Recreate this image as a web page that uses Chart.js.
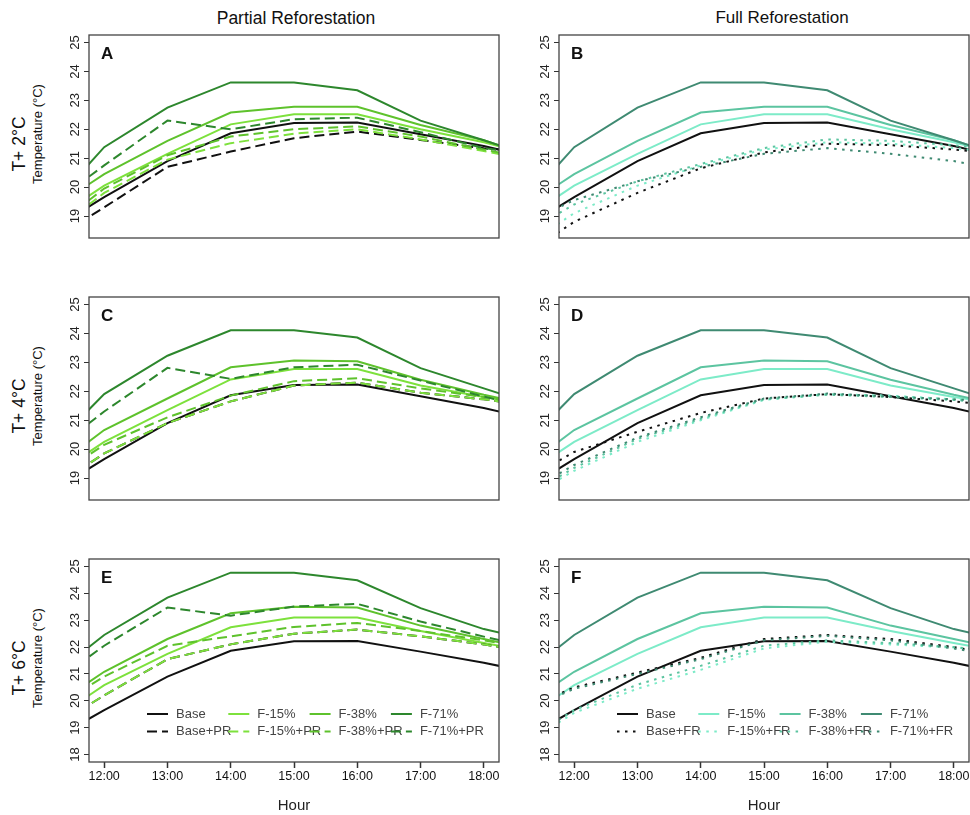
<!DOCTYPE html>
<html>
<head>
<meta charset="utf-8">
<script src="https://cdn.jsdelivr.net/npm/chart.js@4.4.0/dist/chart.umd.min.js"></script>
<style>
  body { margin: 0; background: #fff; width: 970px; height: 815px; position: relative; overflow: hidden;
         font-family: "Liberation Sans", Arial, sans-serif; color: #111; }
  .panel { position: absolute; }
  .lbl { position: absolute; white-space: nowrap; transform: translate(-50%, -50%); }
  .rot { transform: translate(-50%, -50%) rotate(-90deg); }
</style>
</head>
<body>
<div class="lbl" style="left:296px; top:18px; font-size:17.5px;">Partial Reforestation</div>
<div class="lbl" style="left:782px; top:18px; font-size:17px;">Full Reforestation</div>

<div class="lbl rot" style="left:19px; top:144px; font-size:17.5px;">T+ 2°C</div>
<div class="lbl rot" style="left:37px; top:134px; font-size:13px;">Temperature (°C)</div>
<div class="lbl rot" style="left:19px; top:406px; font-size:17.5px;">T+ 4°C</div>
<div class="lbl rot" style="left:37px; top:396px; font-size:13px;">Temperature (°C)</div>
<div class="lbl rot" style="left:19px; top:668px; font-size:17.5px;">T+ 6°C</div>
<div class="lbl rot" style="left:37px; top:658px; font-size:13px;">Temperature (°C)</div>

<canvas id="pA" class="panel" width="452" height="212" style="left:49px; top:30px;"></canvas>
<canvas id="pB" class="panel" width="452" height="212" style="left:519px; top:30px;"></canvas>
<canvas id="pC" class="panel" width="452" height="212" style="left:49px; top:292px;"></canvas>
<canvas id="pD" class="panel" width="452" height="212" style="left:519px; top:292px;"></canvas>
<canvas id="pE" class="panel" width="452" height="261" style="left:49px; top:554px;"></canvas>
<canvas id="pF" class="panel" width="452" height="261" style="left:519px; top:554px;"></canvas>

<script>
// hours of the model output (11:00 and 19:00 fall just outside the plotted window)
const hours = [11, 12, 13, 14, 15, 16, 17, 18, 19];
const hourTicks = [12, 13, 14, 15, 16, 17, 18];
const hourLabels = ["12:00", "13:00", "14:00", "15:00", "16:00", "17:00", "18:00"];
const tempTicksTop = [19, 20, 21, 22, 23, 24, 25];
const tempTicksBottom = [18, 19, 20, 21, 22, 23, 24, 25];

// base run, same in every panel
const base = [18.32, 19.65, 20.9, 21.86, 22.22, 22.23, 21.83, 21.42, 20.92];

// T + 2°C
const f15_2 = [18.6, 20.05, 21.15, 22.17, 22.52, 22.52, 22.0, 21.55, 21.0];
const f38_2 = [19.0, 20.45, 21.6, 22.58, 22.78, 22.78, 22.15, 21.62, 20.91];
const f71_2 = [18.96, 21.38, 22.75, 23.62, 23.62, 23.35, 22.3, 21.62, 20.91];
const basePR_2 = [17.93, 19.3, 20.7, 21.23, 21.69, 21.92, 21.63, 21.34, 21.17];
const f15PR_2 = [18.13, 19.8, 20.95, 21.52, 21.85, 22.0, 21.65, 21.25, 20.83];
const f38PR_2 = [18.28, 19.95, 21.1, 21.75, 22.0, 22.1, 21.75, 21.3, 20.88];
const f71PR_2 = [19.13, 20.75, 22.3, 22.0, 22.35, 22.4, 21.9, 21.35, 21.06];
const baseFR_2 = [17.34, 18.8, 19.8, 20.65, 21.2, 21.5, 21.45, 21.3, 21.09];
const f15FR_2 = [17.64, 19.1, 20.05, 20.75, 21.3, 21.55, 21.5, 21.35, 21.14];
const f38FR_2 = [18.15, 19.4, 20.2, 20.8, 21.35, 21.65, 21.6, 21.45, 21.24];
const f71FR_2 = [18.51, 19.55, 20.2, 20.7, 21.15, 21.35, 21.15, 20.9, 20.48];

// T + 4°C
const f15_4 = [18.79, 20.25, 21.35, 22.41, 22.77, 22.77, 22.2, 21.8, 21.47];
const f38_4 = [18.99, 20.66, 21.75, 22.83, 23.06, 23.04, 22.4, 21.88, 21.42];
const f71_4 = [19.69, 21.9, 23.23, 24.11, 24.11, 23.86, 22.8, 22.1, 21.39];
const basePR_4 = [18.39, 19.85, 20.9, 21.65, 22.2, 22.3, 21.95, 21.72, 21.43];
const f15PR_4 = [18.39, 19.85, 20.9, 21.65, 22.2, 22.3, 21.95, 21.72, 21.43];
const f38PR_4 = [18.69, 20.15, 21.1, 21.85, 22.35, 22.45, 22.1, 21.8, 21.47];
const f71PR_4 = [19.6, 21.3, 22.81, 22.43, 22.83, 22.92, 22.37, 21.82, 21.28];
const baseFR_4 = [18.65, 19.9, 20.6, 21.25, 21.75, 21.9, 21.8, 21.65, 21.44];
const f15FR_4 = [18.0, 19.25, 20.25, 21.0, 21.7, 21.9, 21.85, 21.72, 21.55];
const f38FR_4 = [18.1, 19.35, 20.35, 21.05, 21.72, 21.88, 21.8, 21.7, 21.49];
const f71FR_4 = [18.2, 19.45, 20.4, 21.1, 21.75, 21.92, 21.82, 21.72, 21.64];

// T + 6°C
const f15_6 = [19.0, 20.58, 21.75, 22.74, 23.1, 23.1, 22.6, 22.15, 21.73];
const f38_6 = [19.5, 21.08, 22.3, 23.26, 23.5, 23.47, 22.8, 22.3, 21.8];
const f71_6 = [20.58, 22.45, 23.84, 24.77, 24.77, 24.49, 23.45, 22.67, 22.13];
const basePR_6 = [18.74, 20.2, 21.55, 22.1, 22.5, 22.65, 22.4, 22.1, 21.68];
const f15PR_6 = [18.74, 20.2, 21.55, 22.1, 22.5, 22.65, 22.4, 22.1, 21.68];
const f38PR_6 = [19.44, 20.9, 22.05, 22.4, 22.75, 22.9, 22.6, 22.25, 21.83];
const f71PR_6 = [20.34, 22.05, 23.47, 23.17, 23.51, 23.61, 22.95, 22.39, 21.85];
const baseFR_6 = [19.46, 20.5, 21.05, 21.6, 22.3, 22.45, 22.3, 22.0, 21.58];
const f15FR_6 = [18.09, 19.55, 20.45, 21.15, 21.95, 22.2, 22.1, 21.98, 21.85];
const f38FR_6 = [18.19, 19.65, 20.6, 21.3, 22.05, 22.25, 22.15, 22.0, 21.79];
const f71FR_6 = [19.41, 20.45, 21.0, 21.55, 22.25, 22.42, 22.25, 21.95, 21.53];

const baseColor = "#111111";
const greens = ["#7de13c", "#5ec22c", "#2d872d"];
const aquas = ["#7debc8", "#5cc4a0", "#3f8a72"];
const dashPR = [10, 5];
const dotFR = [2.5, 5.5];

const boxPlugin = {
  id: "box",
  afterDraw(chart, args, opts) {
    const { ctx, chartArea: a } = chart;
    ctx.save();
    ctx.strokeStyle = "#444";
    ctx.lineWidth = 1.3;
    ctx.strokeRect(a.left, a.top, a.right - a.left, a.bottom - a.top);

    ctx.fillStyle = "#111";
    ctx.font = "bold 17px 'Liberation Sans', Arial, sans-serif";
    ctx.textBaseline = "alphabetic";
    ctx.fillText(opts.letter, a.left + 12, a.top + 24);

    if (opts.legend) {
      ctx.font = "13px 'Liberation Sans', Arial, sans-serif";
      ctx.textBaseline = "middle";
      opts.legend.forEach((it, i) => {
        const col = Math.floor(i / 2), row = i % 2;
        const tx = a.left + 87 + col * 81.3;
        const ty = a.top + 155 + row * 17.5;
        ctx.strokeStyle = it.color;
        ctx.lineWidth = 2;
        ctx.setLineDash(it.dash || []);
        ctx.beginPath();
        ctx.moveTo(tx - 29, ty);
        ctx.lineTo(tx - 8, ty);
        ctx.stroke();
        ctx.setLineDash([]);
        ctx.fillStyle = "#444";
        ctx.fillText(it.label, tx, ty);
      });
    }
    ctx.restore();
  }
};

function line(label, values, color, dash) {
  return {
    label: label,
    data: hours.map((h, i) => ({ x: h, y: values[i] })),
    borderColor: color,
    borderWidth: 2,
    borderDash: dash || [],
    pointRadius: 0,
    tension: 0,
    fill: false,
    clip: 0
  };
}

function makePanel(id, letter, series, colors, dash, suffix, yMin, yMax, yTicks, bottomRow) {
  const names = ["Base", "F-15%", "F-38%", "F-71%"];
  const cols = [baseColor].concat(colors);
  // drawn bottom to top: solid runs first, then the reforestation runs
  const drawOrder = [];
  series.solid.forEach((v, i) => drawOrder.push(line(names[i], v, cols[i])));
  series.refor.forEach((v, i) => drawOrder.push(line(names[i] + suffix, v, cols[i], dash)));
  const datasets = drawOrder.slice().reverse();

  let legend = null;
  if (bottomRow) {
    legend = [];
    names.forEach((n, i) => {
      legend.push({ label: n, color: cols[i] });
      legend.push({ label: n + suffix, color: cols[i], dash: dash });
    });
  }

  new Chart(document.getElementById(id), {
    type: "line",
    data: { datasets: datasets },
    options: {
      responsive: false,
      animation: false,
      events: [],
      layout: { padding: { top: 5, right: 2, bottom: bottomRow ? 0 : 4, left: 0 } },
      plugins: {
        legend: { display: false },
        tooltip: { enabled: false },
        box: { letter: letter, legend: legend }
      },
      scales: {
        x: {
          type: "linear",
          min: 11.76,
          max: 18.24,
          display: bottomRow,
          afterBuildTicks: s => { s.ticks = hourTicks.map(v => ({ value: v })); },
          afterFit: s => { s.height = bottomRow ? 53 : 0; s.paddingLeft = 0; s.paddingRight = 0; },
          border: { display: false },
          grid: { drawOnChartArea: false, drawTicks: true, tickLength: 6, color: "#333", tickWidth: 1.5 },
          ticks: {
            padding: 1.5,
            maxRotation: 0,
            autoSkip: false,
            color: "#111",
            font: { size: 12.5, family: "'Liberation Sans', Arial, sans-serif" },
            callback: (v, i) => hourLabels[i]
          },
          title: {
            display: true,
            text: "Hour",
            color: "#222",
            padding: { top: 0, bottom: 0 },
            font: { size: 15, family: "'Liberation Sans', Arial, sans-serif" }
          }
        },
        y: {
          type: "linear",
          min: yMin,
          max: yMax,
          afterBuildTicks: s => { s.ticks = yTicks.map(v => ({ value: v })); },
          afterFit: s => { s.width = 40; s.paddingTop = 0; s.paddingBottom = 0; },
          border: { display: false },
          grid: { drawOnChartArea: false, drawTicks: true, tickLength: 5, color: "#333", tickWidth: 1 },
          ticks: {
            minRotation: 90,
            maxRotation: 90,
            crossAlign: "center",
            padding: 1,
            autoSkip: false,
            color: "#222",
            font: { size: 13, family: "'Liberation Sans', Arial, sans-serif" }
          }
        }
      }
    },
    plugins: [boxPlugin]
  });
}

makePanel("pA", "A", { solid: [base, f15_2, f38_2, f71_2], refor: [basePR_2, f15PR_2, f38PR_2, f71PR_2] },
  greens, dashPR, "+PR", 18.24, 25.26, tempTicksTop, false);
makePanel("pB", "B", { solid: [base, f15_2, f38_2, f71_2], refor: [baseFR_2, f15FR_2, f38FR_2, f71FR_2] },
  aquas, dotFR, "+FR", 18.24, 25.26, tempTicksTop, false);
makePanel("pC", "C", { solid: [base, f15_4, f38_4, f71_4], refor: [basePR_4, f15PR_4, f38PR_4, f71PR_4] },
  greens, dashPR, "+PR", 18.24, 25.26, tempTicksTop, false);
makePanel("pD", "D", { solid: [base, f15_4, f38_4, f71_4], refor: [baseFR_4, f15FR_4, f38FR_4, f71FR_4] },
  aquas, dotFR, "+FR", 18.24, 25.26, tempTicksTop, false);
makePanel("pE", "E", { solid: [base, f15_6, f38_6, f71_6], refor: [basePR_6, f15PR_6, f38PR_6, f71PR_6] },
  greens, dashPR, "+PR", 17.72, 25.28, tempTicksBottom, true);
makePanel("pF", "F", { solid: [base, f15_6, f38_6, f71_6], refor: [baseFR_6, f15FR_6, f38FR_6, f71FR_6] },
  aquas, dotFR, "+FR", 17.72, 25.28, tempTicksBottom, true);
</script>
</body>
</html>
